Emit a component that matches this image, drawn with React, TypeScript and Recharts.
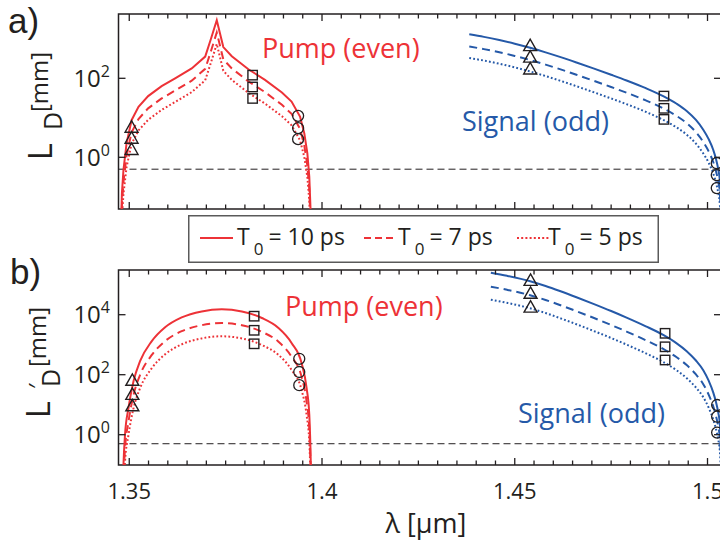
import React from 'react';
import { ComposedChart, Line, Scatter, XAxis, YAxis, ReferenceLine, ReferenceArea, Legend } from 'recharts';

const FONT = "'Open Sans', 'Noto Sans', sans-serif";
const PANEL_FONT = "'Liberation Sans', 'Open Sans', sans-serif";
const INK = '#231f20';
const RED = '#ed3237';
const BLUE = '#2559a8';

// ---------- axes ----------
const X_MIN = 1.34721;
const X_MAX = 1.5035;
const xTicks = [1.35, 1.355, 1.36, 1.365, 1.37, 1.375, 1.38, 1.385, 1.39, 1.395, 1.4, 1.405, 1.41, 1.415, 1.42, 1.425, 1.43, 1.435, 1.44, 1.445, 1.45, 1.455, 1.46, 1.465, 1.47, 1.475, 1.48, 1.485, 1.49, 1.495, 1.5];
const xMajorTicks = [1.35, 1.4, 1.45, 1.5];
const xTickLabels = ['1.35', '1.4', '1.45', '1.5'];

const yTicksA = [1, 100];
const yTickExpA = ['0', '2'];
const yTicksB = [1, 100, 10000];
const yTickExpB = ['0', '2', '4'];
const yLogDomainA = [-1.309, 3.628];
const yLogDomainB = [-1.01, 5.49];
const cutoffLength = 0.5; // mm, dashed reference

const legendLabels = ['10 ps', '7 ps', '5 ps'];

const pumpLambdaA = [1.3478, 1.3481, 1.3485, 1.3493, 1.3506, 1.3524, 1.3549, 1.3584, 1.3619, 1.3662, 1.3697, 1.3712, 1.3727, 1.3744, 1.3766, 1.3809, 1.3852, 1.3896, 1.3921, 1.3943, 1.3954, 1.3962, 1.3967, 1.3970, 1.3972];
const pumpA_T10 = [-2.0, -0.9, -0.32, 0.35, 0.94, 1.28, 1.55, 1.80, 2.00, 2.25, 2.55, 3.00, 3.47, 2.79, 2.56, 2.23, 1.96, 1.64, 1.41, 1.03, 0.61, 0.10, -0.49, -1.25, -2.0];
const pumpA_T7 = [-2.3, -1.2, -0.63, 0.04, 0.63, 0.97, 1.24, 1.49, 1.69, 1.94, 2.24, 2.69, 3.16, 2.48, 2.25, 1.92, 1.65, 1.33, 1.10, 0.72, 0.30, -0.21, -0.80, -1.56, -2.31];
const pumpA_T5 = [-2.6, -1.5, -0.92, -0.25, 0.34, 0.68, 0.95, 1.20, 1.40, 1.65, 1.95, 2.40, 2.87, 2.19, 1.96, 1.63, 1.36, 1.04, 0.81, 0.43, 0.01, -0.50, -1.09, -1.85, -2.60];

const sigLambdaA = [1.4382, 1.4420, 1.4460, 1.4500, 1.4540, 1.4580, 1.4617, 1.4660, 1.4704, 1.4750, 1.4790, 1.4840, 1.4885, 1.4920, 1.4946, 1.4970, 1.4989, 1.5003, 1.5015, 1.5022, 1.5028, 1.5032, 1.5036, 1.5040];
const sigA_T10 = [3.114, 3.049, 2.969, 2.877, 2.773, 2.657, 2.542, 2.400, 2.250, 2.089, 1.945, 1.750, 1.548, 1.355, 1.173, 0.945, 0.698, 0.460, 0.184, -0.040, -0.310, -0.590, -1.39, -2.5];
const sigA_T7 = [2.804, 2.739, 2.659, 2.567, 2.463, 2.347, 2.232, 2.090, 1.940, 1.779, 1.635, 1.440, 1.238, 1.045, 0.863, 0.635, 0.388, 0.150, -0.126, -0.350, -0.620, -0.900, -1.70, -2.81];
const sigA_T5 = [2.514, 2.449, 2.369, 2.277, 2.173, 2.057, 1.942, 1.800, 1.650, 1.489, 1.345, 1.150, 0.948, 0.755, 0.573, 0.345, 0.098, -0.140, -0.416, -0.640, -0.910, -1.190, -1.99, -3.1];

// markers panel a (lambda, log10 values for T0 = 10, 7, 5 ps)
const triLambdaA = [1.3506, 1.4540];
const triA = [[0.775, 0.496, 0.21], [2.84, 2.55, 2.25]];
const sqLambdaA = [1.3820, 1.4887];
const sqA = [[2.08, 1.78, 1.49], [1.55, 1.24, 0.96]];
const cirLambdaA = [1.3938, 1.5024];
const cirA = [[1.05, 0.74, 0.46], [-0.15, -0.45, -0.78]];

// ---------- panel b: L'_D ----------
const pumpLambdaB = [1.3482, 1.3485, 1.3489, 1.3498, 1.3511, 1.3528, 1.3558, 1.3593, 1.3636, 1.3688, 1.3740, 1.3792, 1.3844, 1.3887, 1.3921, 1.3947, 1.3960, 1.3967, 1.3971, 1.3973];
const pumpB_T10 = [-2.5, -1.0, 0.0, 0.89, 1.78, 2.45, 3.11, 3.58, 3.91, 4.11, 4.18, 4.11, 3.89, 3.56, 3.06, 2.39, 1.56, 0.67, -1.0, -2.5];
const pumpB_T7 = [-2.97, -1.47, -0.47, 0.43, 1.32, 1.99, 2.65, 3.12, 3.45, 3.65, 3.72, 3.65, 3.43, 3.10, 2.60, 1.93, 1.10, 0.21, -1.47, -2.97];
const pumpB_T5 = [-3.4, -1.9, -0.9, -0.01, 0.88, 1.55, 2.21, 2.68, 3.01, 3.21, 3.28, 3.21, 2.99, 2.66, 2.16, 1.49, 0.66, -0.23, -1.9, -3.4];

const sigLambdaB = [1.4438, 1.4480, 1.4540, 1.4580, 1.4617, 1.4660, 1.4704, 1.4750, 1.4790, 1.4840, 1.4885, 1.4920, 1.4946, 1.4970, 1.4989, 1.5003, 1.5015, 1.5022, 1.5028, 1.5032, 1.5036, 1.5040];
const sigB_T10 = [5.40, 5.295, 5.115, 4.955, 4.788, 4.582, 4.362, 4.123, 3.903, 3.613, 3.325, 3.045, 2.785, 2.473, 2.150, 1.800, 1.404, 1.089, 0.729, 0.369, -0.63, -2.0];
const sigB_T7 = [4.935, 4.83, 4.65, 4.49, 4.323, 4.117, 3.897, 3.658, 3.438, 3.148, 2.86, 2.58, 2.32, 2.008, 1.685, 1.335, 0.939, 0.624, 0.264, -0.096, -1.096, -2.465];
const sigB_T5 = [4.50, 4.395, 4.215, 4.055, 3.888, 3.682, 3.462, 3.223, 3.003, 2.713, 2.425, 2.145, 1.885, 1.573, 1.25, 0.90, 0.504, 0.189, -0.171, -0.531, -1.53, -2.9];

const triLambdaB = [1.3508, 1.4541];
const triB = [[1.83, 1.36, 0.98], [5.16, 4.73, 4.27]];
const sqLambdaB = [1.3824, 1.4890];
const sqB = [[3.95, 3.48, 3.03], [3.38, 2.93, 2.49]];
const cirLambdaB = [1.3941, 1.5025];
const cirB = [[2.53, 2.09, 1.65], [0.99, 0.60, 0.07]];

// ---------- helpers ----------
const toPts = (lam: number[], logs: number[]) => lam.map((x, i) => ({ x, y: Math.pow(10, logs[i]) }));
const markerPts = (lam: number[], logs: number[][]) => {
  const out: { x: number; y: number }[] = [];
  lam.forEach((x, i) => logs[i].forEach((l) => out.push({ x, y: Math.pow(10, l) })));
  return out;
};

const TriangleShape = (p: any) => {
  const { cx, cy } = p;
  if (cx == null || cy == null) return <g />;
  return <polygon points={`${cx - 6.5},${cy + 5.5} ${cx + 6.5},${cy + 5.5} ${cx},${cy - 6}`} fill="none" stroke={INK} strokeWidth={1.4} />;
};
const SquareShape = (p: any) => {
  const { cx, cy } = p;
  if (cx == null || cy == null) return <g />;
  return <rect x={cx - 4.7} y={cy - 4.7} width={9.4} height={9.4} fill="none" stroke={INK} strokeWidth={1.4} />;
};
const CircleShape = (p: any) => {
  const { cx, cy } = p;
  if (cx == null || cy == null) return <g />;
  return <circle cx={cx} cy={cy} r={5.5} fill="none" stroke={INK} strokeWidth={1.3} />;
};

type Plot = { left: number; right: number; top: number; bottom: number };

const makeXTick = (plot: Plot, showLabels: boolean) => (props: any) => {
  const { x, payload } = props;
  const v = payload.value;
  const mi = xMajorTicks.findIndex((m) => Math.abs(m - v) < 1e-9);
  const len = mi >= 0 ? 7 : 4.5;
  return (
    <g>
      <line x1={x} y1={plot.bottom} x2={x} y2={plot.bottom - len} stroke={INK} strokeWidth={1.3} />
      <line x1={x} y1={plot.top} x2={x} y2={plot.top + len} stroke={INK} strokeWidth={1.3} />
      {showLabels && mi >= 0 && (
        <text x={x} y={plot.bottom + 34} textAnchor="middle" fontSize={22} fontFamily={FONT} fill={INK}>
          {xTickLabels[mi]}
        </text>
      )}
    </g>
  );
};

const makeYTick = (plot: Plot, ticks: number[], exps: string[]) => (props: any) => {
  const { y, payload } = props;
  const i = ticks.findIndex((t) => Math.abs(t - payload.value) < 1e-6 * t);
  return (
    <g>
      <line x1={plot.left} y1={y} x2={plot.left + 7} y2={y} stroke={INK} strokeWidth={1.3} />
      <line x1={plot.right} y1={y} x2={plot.right - 7} y2={y} stroke={INK} strokeWidth={1.3} />
      <text x={plot.left - 8.5} y={y + 8.5} textAnchor="end" fontSize={24} fontFamily={FONT} fill={INK}>
        10
        <tspan dy={-10} fontSize={16}>{i >= 0 ? exps[i] : ''}</tspan>
      </text>
    </g>
  );
};

const LegendBox = () => {
  const sampleX = [12, 176, 329];
  const textX = [49, 210, 360];
  const dashes = [undefined, '7 4', '2 2.2'];
  return (
    <svg width={471} height={48} style={{ display: 'block' }} fontFamily={FONT}>
      <rect x={0.75} y={0.75} width={469.5} height={46.5} fill="#ffffff" stroke="#5a5a5a" strokeWidth={1.5} />
      {legendLabels.map((lab, i) => (
        <g key={lab}>
          <line x1={sampleX[i]} y1={23} x2={sampleX[i] + 33} y2={23} stroke={RED} strokeWidth={2} strokeDasharray={dashes[i]} />
          <text x={textX[i]} y={30} fontSize={23} fill={INK}>
            T
            <tspan dx={4} dy={10} fontSize={17}>0</tspan>
            <tspan dx={5} dy={-10} fontSize={23}>= {lab}</tspan>
          </text>
        </g>
      ))}
    </svg>
  );
};

const seriesStyles = [
  { w: 2, dash: undefined as string | undefined },
  { w: 2, dash: '8 5' },
  { w: 2, dash: '1.8 2.2' },
];

function Panel(props: {
  width: number; height: number; plot: Plot; yLog: number[]; yTicks: number[]; yExps: string[];
  pump: { x: number; y: number }[][]; sig: { x: number; y: number }[][]; pumpType: 'linear' | 'monotone';
  tri: { x: number; y: number }[]; sq: { x: number; y: number }[]; cir: { x: number; y: number }[];
  showXLabels: boolean; legend?: boolean;
}) {
  const { width, height, plot, yLog } = props;
  const yDom = [Math.pow(10, yLog[0]), Math.pow(10, yLog[1])];
  return (
    <ComposedChart
      width={width}
      height={height}
      margin={{ top: plot.top, right: width - plot.right, bottom: 0, left: 0 }}
    >
      <XAxis
        xAxisId="x"
        type="number"
        dataKey="x"
        domain={[X_MIN, X_MAX]}
        allowDataOverflow
        ticks={xTicks}
        interval={0}
        height={height - plot.bottom}
        tickLine={false}
        axisLine={false}
        tickSize={0}
        tickMargin={0}
        tick={makeXTick(plot, props.showXLabels)}
      />
      <YAxis
        yAxisId="y"
        type="number"
        dataKey="y"
        scale="log"
        domain={yDom}
        allowDataOverflow
        ticks={props.yTicks}
        interval={0}
        width={plot.left}
        tickLine={false}
        axisLine={false}
        tickSize={0}
        tickMargin={0}
        tick={makeYTick(plot, props.yTicks, props.yExps)}
      />
      <ReferenceLine xAxisId="x" yAxisId="y" y={cutoffLength} stroke={INK} strokeWidth={1} strokeDasharray="7 4" />
      {props.pump.map((d, i) => (
        <Line key={'p' + i} xAxisId="x" yAxisId="y" data={d} dataKey="y" type={props.pumpType} stroke={RED}
          strokeWidth={seriesStyles[i].w} strokeDasharray={seriesStyles[i].dash} dot={false} activeDot={false}
          isAnimationActive={false} />
      ))}
      {props.sig.map((d, i) => (
        <Line key={'s' + i} xAxisId="x" yAxisId="y" data={d} dataKey="y" type="monotone" stroke={BLUE}
          strokeWidth={seriesStyles[i].w} strokeDasharray={seriesStyles[i].dash} dot={false} activeDot={false}
          isAnimationActive={false} />
      ))}
      <Scatter xAxisId="x" yAxisId="y" data={props.tri} dataKey="y" shape={TriangleShape} isAnimationActive={false} />
      <Scatter xAxisId="x" yAxisId="y" data={props.sq} dataKey="y" shape={SquareShape} isAnimationActive={false} />
      <Scatter xAxisId="x" yAxisId="y" data={props.cir} dataKey="y" shape={CircleShape} isAnimationActive={false} />
      <ReferenceArea xAxisId="x" yAxisId="y" x1={X_MIN} x2={X_MAX} y1={yDom[0]} y2={yDom[1]} fill="none"
        fillOpacity={0} stroke={INK} strokeWidth={1.5} ifOverflow="visible" />
      {props.legend && (
        <Legend
          layout="horizontal"
          verticalAlign="middle"
          align="center"
          content={() => <LegendBox />}
          wrapperStyle={{ left: 188, top: 215, width: 471, height: 48 }}
        />
      )}
    </ComposedChart>
  );
}

export default function App() {
  const plotA: Plot = { left: 118.5, right: 721, top: 14, bottom: 209 };
  const plotB: Plot = { left: 118.5, right: 721, top: 30, bottom: 225 };
  return (
    <div style={{ position: 'absolute', left: 0, top: 0, width: 720, height: 546, overflow: 'hidden', background: '#fff', fontFamily: FONT }}>
      <div style={{ position: 'absolute', left: 0, top: 0 }}>
        <Panel
          width={740}
          height={270}
          plot={plotA}
          yLog={yLogDomainA}
          yTicks={yTicksA}
          yExps={yTickExpA}
          pump={[toPts(pumpLambdaA, pumpA_T10), toPts(pumpLambdaA, pumpA_T7), toPts(pumpLambdaA, pumpA_T5)]}
          sig={[toPts(sigLambdaA, sigA_T10), toPts(sigLambdaA, sigA_T7), toPts(sigLambdaA, sigA_T5)]}
          pumpType="linear"
          tri={markerPts(triLambdaA, triA)}
          sq={markerPts(sqLambdaA, sqA)}
          cir={markerPts(cirLambdaA, cirA)}
          showXLabels={false}
          legend
        />
      </div>
      <div style={{ position: 'absolute', left: 0, top: 240 }}>
        <Panel
          width={740}
          height={306}
          plot={plotB}
          yLog={yLogDomainB}
          yTicks={yTicksB}
          yExps={yTickExpB}
          pump={[toPts(pumpLambdaB, pumpB_T10), toPts(pumpLambdaB, pumpB_T7), toPts(pumpLambdaB, pumpB_T5)]}
          sig={[toPts(sigLambdaB, sigB_T10), toPts(sigLambdaB, sigB_T7), toPts(sigLambdaB, sigB_T5)]}
          pumpType="monotone"
          tri={markerPts(triLambdaB, triB)}
          sq={markerPts(sqLambdaB, sqB)}
          cir={markerPts(cirLambdaB, cirB)}
          showXLabels
        />
      </div>
      <svg width={720} height={546} style={{ position: 'absolute', left: 0, top: 0, pointerEvents: 'none' }} fontFamily={FONT}>
        <text x={8} y={33} fontSize={35} fontFamily={PANEL_FONT} fill={INK}>a)</text>
        <text x={10} y={284} fontSize={35} fontFamily={PANEL_FONT} fill={INK}>b)</text>
        <text transform="translate(52,160) rotate(-90)" fontSize={32} fill={INK}>L</text>
        <text transform="translate(62,130) rotate(-90)" fontSize={25} fill={INK}>D</text>
        <text transform="translate(48,112) rotate(-90)" fontSize={24} fill={INK}>[mm]</text>
        <text transform="translate(50,418) rotate(-90)" fontSize={32} fill={INK}>L</text>
        <text transform="translate(46,389) rotate(-90)" fontSize={24} fill={INK}>′</text>
        <text transform="translate(60,387) rotate(-90)" fontSize={25} fill={INK}>D</text>
        <text transform="translate(46,367) rotate(-90)" fontSize={24} fill={INK}>[mm]</text>
        <text x={262} y={58} fontSize={27} fill={RED}>Pump (even)</text>
        <text x={285} y={316} fontSize={27} fill={RED}>Pump (even)</text>
        <text x={462} y={131} fontSize={27} fill={BLUE}>Signal (odd)</text>
        <text x={518} y={423} fontSize={27} fill={BLUE}>Signal (odd)</text>
        <text x={426} y={533} textAnchor="middle" fontSize={27} fill={INK}>λ [μm]</text>
      </svg>
    </div>
  );
}
